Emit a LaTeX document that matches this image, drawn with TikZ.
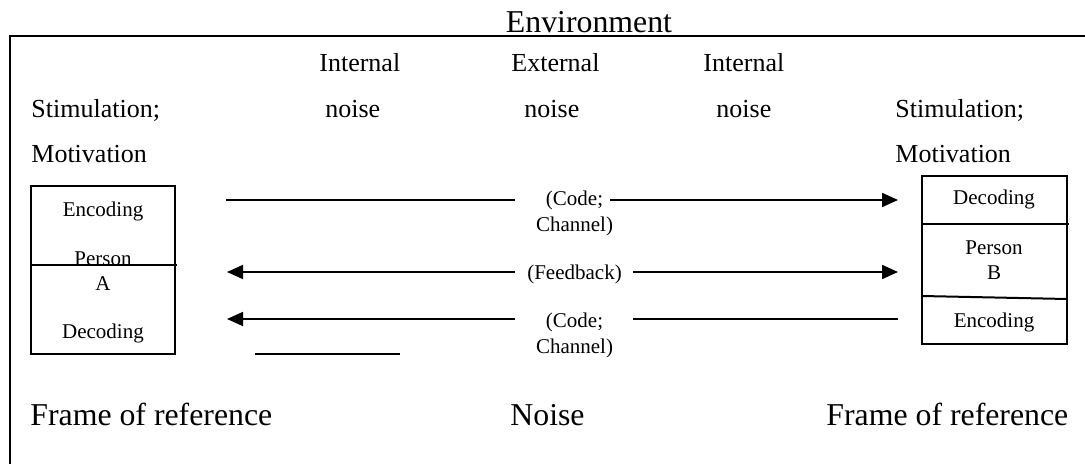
\documentclass[tikz,border=0pt]{standalone}
\usepackage{xcolor}
\usepackage{tikz}
\usepackage{fontspec}
\setmainfont{Liberation Serif}
\usetikzlibrary{arrows.meta}

\begin{document}
\begin{tikzpicture}[x=0.5pt,y=-0.5pt,
  bigtxt/.style={font=\fontsize{15.9}{18}\selectfont,inner sep=0pt},
  midtxt/.style={font=\fontsize{13}{15}\selectfont,inner sep=0pt},
  smalltxt/.style={font=\fontsize{10.5}{13}\selectfont,inner sep=0pt,align=center},
  boxline/.style={line width=1pt},
  msgline/.style={line width=0.9pt},
  msgarrow/.style={msgline,-{Triangle[length=8pt,width=7pt]}}]
  \useasboundingbox (0,0) rectangle (1085,464);
  \draw[line width=1.3pt] (1085,36) -- (10,36) -- (10,464);
  \node[bigtxt,anchor=base] (env) at (589,33) {Environment};

  \node[midtxt,anchor=base west] (intA) at (319,72) {Internal};
  \node[midtxt,anchor=base west] (ext) at (511,72) {External};
  \node[midtxt,anchor=base west] (intB) at (703,72) {Internal};
  \node[midtxt,anchor=base west] (noiseA) at (325,118) {noise};
  \node[midtxt,anchor=base west] (noiseM) at (524,118) {noise};
  \node[midtxt,anchor=base west] (noiseB) at (716,118) {noise};
  \node[midtxt,anchor=base west] (stimA) at (31,118) {Stimulation;};
  \node[midtxt,anchor=base west] (stimB) at (895,118) {Stimulation;};
  \node[midtxt,anchor=base west] (motA) at (31,163) {Motivation};
  \node[midtxt,anchor=base west] (motB) at (895,163) {Motivation};

  \draw[boxline] (31,186) rectangle (175,354);
  \draw[boxline] (31,265) -- (177,265);
  \node[smalltxt,anchor=base] (encA) at (103,217) {Encoding};
  \node[smalltxt,anchor=base] (persA) at (103,266) {Person};
  \node[smalltxt,anchor=base] (nameA) at (103,291) {A};
  \node[smalltxt,anchor=base] (decA) at (103,338) {Decoding};

  \draw[boxline] (922,176) rectangle (1067,344);
  \draw[boxline] (922,224) -- (1069,224);
  \draw[boxline] (922,296) -- (1067,299);
  \node[smalltxt,anchor=base] (decB) at (994,205) {Decoding};
  \node[smalltxt,anchor=base] (persB) at (994,255) {Person};
  \node[smalltxt,anchor=base] (nameB) at (994,279) {B};
  \node[smalltxt,anchor=base] (encB) at (994,328) {Encoding};

  \coordinate (m1a) at (226,200);
  \coordinate (m1b) at (515,200);
  \coordinate (m1c) at (610,200);
  \coordinate (m1d) at (898,200);
  \coordinate (m2a) at (227,272);
  \coordinate (m2b) at (515,272);
  \coordinate (m2c) at (633,272);
  \coordinate (m2d) at (898,272);
  \coordinate (m3a) at (227,319);
  \coordinate (m3b) at (515,319);
  \coordinate (m3c) at (633,319);
  \coordinate (m3d) at (898,319);
  \coordinate (u1) at (255,354);
  \coordinate (u2) at (400,354);

  \node[smalltxt,anchor=base] (chanA) at (574.5,232) {(Code;\\Channel)};
  \node[smalltxt,anchor=base] (fback) at (574.5,280) {(Feedback)};
  \node[smalltxt,anchor=base] (chanB) at (574.5,353) {(Code;\\Channel)};

  \draw[msgline] (m1a) -- (m1b);
  \draw[msgarrow] (m1c) -- (m1d);
  \draw[msgarrow] (m2b) -- (m2a);
  \draw[msgarrow] (m2c) -- (m2d);
  \draw[msgarrow] (m3b) -- (m3a);
  \draw[msgline] (m3c) -- (m3d);
  \draw[msgline] (u1) -- (u2);

  \node[bigtxt,anchor=base west] (frameA) at (30,425) {Frame of reference};
  \node[bigtxt,anchor=base west] (noise) at (510,425) {Noise};
  \node[bigtxt,anchor=base west] (frameB) at (826,425) {Frame of reference};
\end{tikzpicture}
\end{document}
